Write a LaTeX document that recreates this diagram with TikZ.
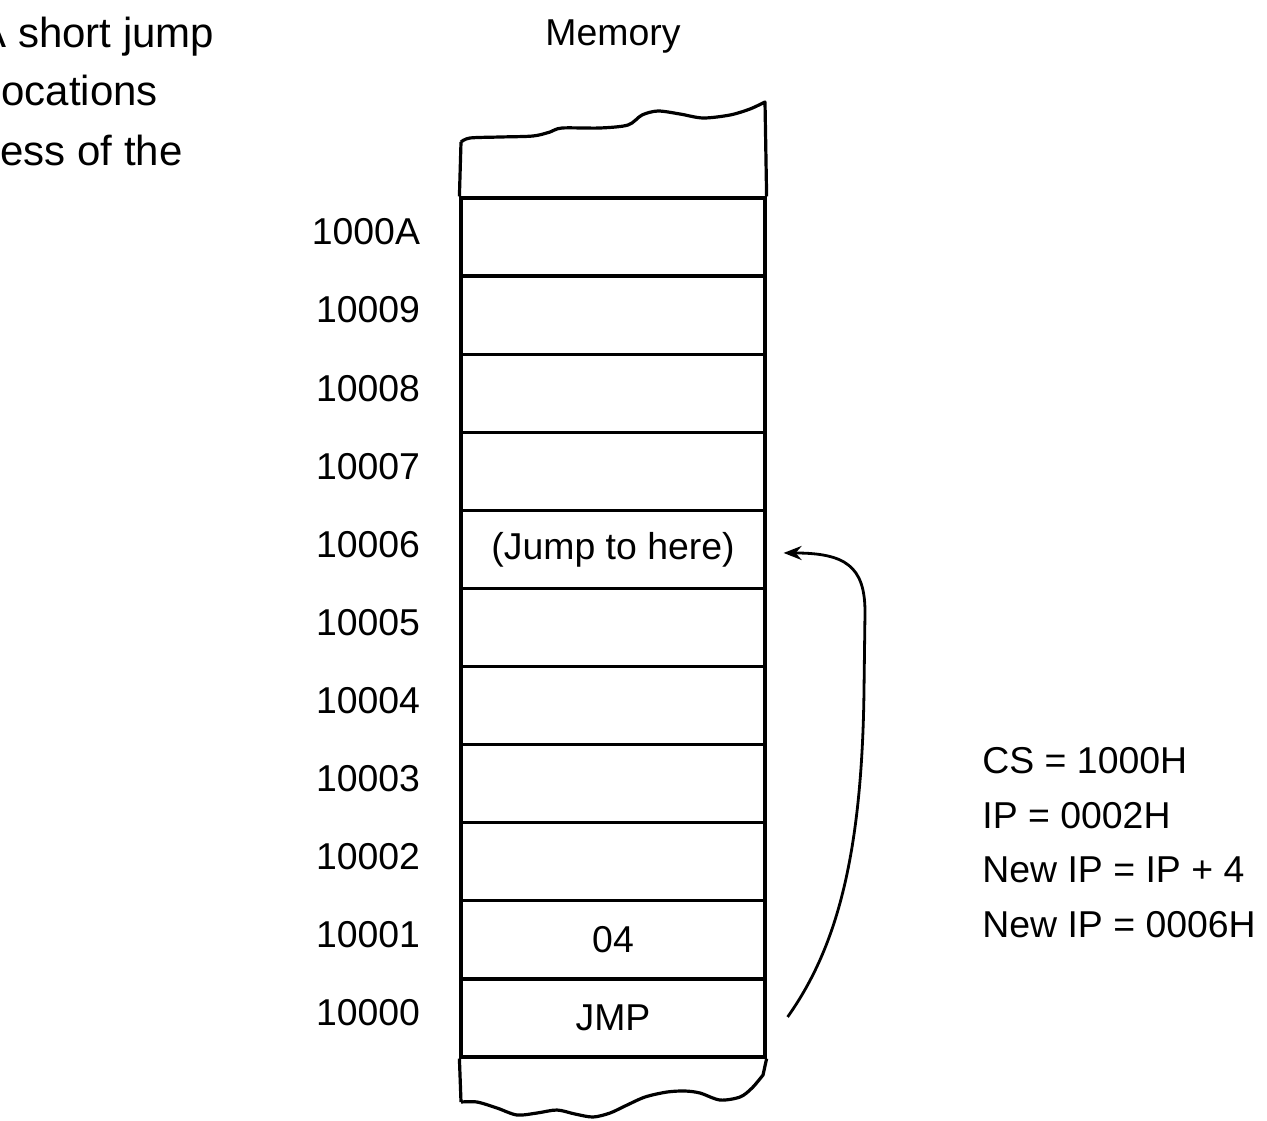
\documentclass[tikz,border=0pt]{standalone}
\usepackage{fontspec}
\setmainfont{Liberation Sans}
\usetikzlibrary{arrows.meta,positioning}
\newcommand{\memfont}{\fontsize{18.7pt}{22pt}\selectfont}
\newcommand{\capfont}{\fontsize{21pt}{25pt}\selectfont}
\tikzset{
 mem cell/.style={draw,line width=1.6pt,minimum width=152pt,minimum height=39.05pt,
                  inner sep=0pt,font=\memfont},
 mem addr/.style={inner sep=0pt,font=\memfont,anchor=east},
 mem text/.style={inner sep=0pt,font=\memfont},
 cap text/.style={inner sep=0pt,font=\capfont,anchor=base west},
 mem edge/.style={line width=1.6pt,line join=round},
 jump arrow/.style={line width=1.4pt,-{Stealth[length=9pt,width=7pt,inset=3pt]}}
}

\begin{document}
\begin{tikzpicture}[x=0.5pt,y=-0.5pt]
 \useasboundingbox (0,0) rectangle (1267,1120);
 % cut-off caption text at the page edge
 \begin{scope}
  \clip (0,0) rectangle (1267,1120);
  \node[cap text] (cap1) at (-22,47) {A short jump};
  \node[cap text] (cap2) at (1,105) {ocations};
  \node[cap text] (cap3) at (0,165) {ess of the};
 \end{scope}
 \node[mem text,anchor=base] (memtitle) at (613,45) {Memory};

 % memory cells, 10000 at the bottom
 \foreach \a/\t [count=\k from 0] in {10000/JMP,10001/04,10002/{},10003/{},
     10004/{},10005/{},10006/(Jump to here),10007/{},10008/{},10009/{},1000A/{}}{
  \node[mem cell] (m\k) at (613,{1057-78.1*(\k+0.5)}) {\t};
  \node[mem addr] (a\k) at ([xshift=-19.5pt,yshift=2.5pt]m\k.west) {\a};
 }

 % torn ends of the memory strip
 \draw[mem edge] (m10.north west) -- (461,142)
   plot[smooth] coordinates {(461,142) (470,138) (500,137) (533,136) (550,132)
     (562,128) (600,128) (628,125) (642,115) (658,111) (680,114) (703,118)
     (730,115) (750,109) (765,102)}
   -- (m10.north east);
 \draw[mem edge] (m0.south west) -- (461,1102)
   plot[smooth] coordinates {(461,1102) (477,1102) (497,1108) (517,1115)
     (537,1113) (557,1110) (575,1114) (593,1117) (610,1113) (625,1106)
     (645,1097) (667,1092) (685,1091) (700,1093) (720,1100) (740,1097)
     (752,1088) (763,1075)}
   -- (m0.south east);

 % the jump
 \draw[jump arrow] ([xshift=10.5pt,yshift=0.5pt]m0.east)
   .. controls (835,950) and (862,860) .. (864,690) -- (865,612)
   .. controls (865,566) and (845,553) .. ([xshift=8.5pt,yshift=-1.8pt]m6.east);

 \node[mem text,anchor=base west] (cs) at (982,773) {CS = 1000H};
 \node[mem text,anchor=base west] (ip) at (982,828) {IP = 0002H};
 \node[mem text,anchor=base west] (nip1) at (982,882) {New IP = IP + 4};
 \node[mem text,anchor=base west] (nip2) at (982,937) {New IP = 0006H};
\end{tikzpicture}
\end{document}
